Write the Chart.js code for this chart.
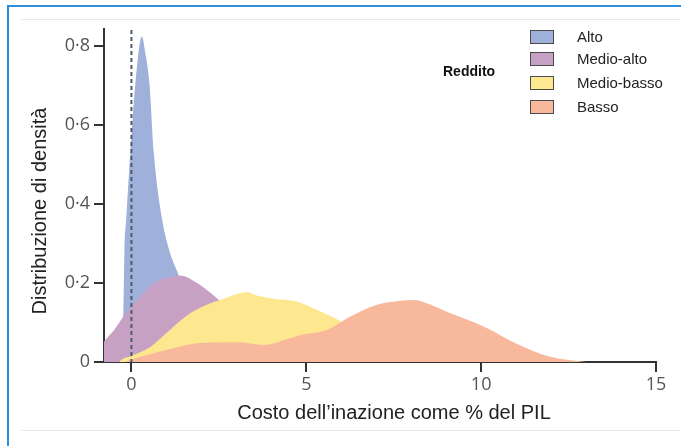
<!DOCTYPE html>
<html>
<head>
<meta charset="utf-8">
<script src="https://cdn.jsdelivr.net/npm/chart.js@4.4.1/dist/chart.umd.min.js"></script>
<style>
html,body{margin:0;padding:0;background:#fff;}
#wrap{position:relative;width:681px;height:446px;overflow:hidden;background:#fff;}
#c{position:absolute;left:0;top:0;}
.frame{position:absolute;left:7px;top:5px;width:720px;height:480px;border-left:2px solid #2a8fdc;border-top:2px solid #2a8fdc;box-sizing:border-box;}
.hl{position:absolute;left:21px;right:0;height:1px;background:#e9e9e9;}
.lg-title{position:absolute;left:443px;top:63px;font:bold 14px "Liberation Sans",Arial,sans-serif;color:#111;}
.lg-box{position:absolute;left:530px;width:24px;height:14px;box-sizing:border-box;border:1.5px solid #4a4a4a;}
.lg-txt{position:absolute;left:577px;font:15px "Liberation Sans",Arial,sans-serif;color:#222;line-height:14px;}
</style>
</head>
<body>
<div id="wrap">
  <div class="frame"></div>
  <div class="hl" style="top:19px"></div>
  <div class="hl" style="top:430px"></div>
  <canvas id="c" width="681" height="446"></canvas>
  <div id="legend"></div>
</div>
<script>
// ---- data ----
const seriesNames = ["Alto", "Medio-alto", "Medio-basso", "Basso"];
const seriesColors = ["#9fb0da", "#c6a1c4", "#fde88f", "#f8b89c"];

const altoX = [-0.4, -0.28, -0.23, -0.2, -0.15, -0.03, 0.11, 0.3, 0.4, 0.52, 0.64, 0.88, 1.1, 1.32, 1.6, 2.0, 2.5, 3.0, 3.5];
const altoY = [0, 0.02, 0.11, 0.277, 0.36, 0.53, 0.70, 0.823, 0.78, 0.70, 0.53, 0.36, 0.277, 0.226, 0.15, 0.08, 0.03, 0.01, 0];

const medioAltoX = [-1.2, -0.77, -0.5, -0.22, 0.05, 0.26, 0.73, 1.1, 1.4, 1.88, 2.26, 2.5, 3.0, 3.5, 4.0, 5.0, 6.0];
const medioAltoY = [0, 0.053, 0.08, 0.116, 0.145, 0.167, 0.204, 0.214, 0.219, 0.2, 0.175, 0.157, 0.11, 0.065, 0.035, 0.01, 0];

const medioBassoX = [-0.35, -0.3, 0, 0.54, 0.73, 1.21, 1.69, 2.16, 2.64, 3.02, 3.3, 3.59, 4.06, 4.73, 5.3, 6.0, 6.5, 7.0, 7.5, 8.5];
const medioBassoY = [0, 0.005, 0.015, 0.038, 0.052, 0.09, 0.124, 0.145, 0.16, 0.172, 0.177, 0.168, 0.16, 0.153, 0.132, 0.102, 0.07, 0.04, 0.02, 0];

const bassoX = [-0.2, 0.26, 1.2, 1.97, 3.1, 3.77, 4.54, 4.83, 5.59, 6.26, 7.02, 7.69, 8.1, 8.35, 9.11, 10.07, 11.0, 11.97, 12.5, 13.02];
const bassoY = [0, 0.013, 0.035, 0.048, 0.05, 0.043, 0.06, 0.068, 0.081, 0.115, 0.145, 0.155, 0.157, 0.152, 0.124, 0.09, 0.047, 0.013, 0.005, 0];

const xTickValues = [0, 5, 10, 15];
const yTickValues = [0, 0.2, 0.4, 0.6, 0.8];
const referenceX = 0;
const xTitle = "Costo dell\u2019inazione come % del PIL";
const yTitle = "Distribuzione di densità";
const legendTitle = "Reddito";

// ---- build ----
const toPts = (xs, ys) => xs.map((x, i) => ({x: x, y: ys[i]}));
const allX = [altoX, medioAltoX, medioBassoX, bassoX];
const allY = [altoY, medioAltoY, medioBassoY, bassoY];

const datasets = seriesNames.map((name, i) => ({
  label: name,
  data: toPts(allX[i], allY[i]),
  backgroundColor: seriesColors[i],
  borderColor: seriesColors[i],
  borderWidth: 0,
  fill: 'origin',
  pointRadius: 0,
  pointHoverRadius: 0,
  cubicInterpolationMode: 'monotone',
  order: seriesNames.length - i
}));

// legend (HTML)
const lg = document.getElementById('legend');
const t = document.createElement('div');
t.className = 'lg-title'; t.textContent = legendTitle; lg.appendChild(t);
const rowTops = [29.5, 52, 76, 99.5];
seriesNames.forEach((n, i) => {
  const b = document.createElement('div');
  b.className = 'lg-box'; b.style.top = rowTops[i] + 'px'; b.style.background = seriesColors[i];
  lg.appendChild(b);
  const s = document.createElement('div');
  s.className = 'lg-txt'; s.style.top = rowTops[i] + 'px'; s.textContent = n;
  lg.appendChild(s);
});

const overlay = {
  id: 'overlay',
  afterDatasetsDraw(chart) {
    const {ctx, chartArea, scales} = chart;
    const px = scales.x.getPixelForValue(referenceX);
    ctx.save();
    ctx.strokeStyle = '#4d5c68';
    ctx.lineWidth = 2;
    ctx.setLineDash([4, 3]);
    ctx.beginPath();
    ctx.moveTo(px, chartArea.top + 1);
    ctx.lineTo(px, chartArea.bottom);
    ctx.stroke();
    ctx.restore();
  },
  afterDraw(chart) {
    const {ctx} = chart;
    ctx.save();
    ctx.fillStyle = '#222';
    ctx.font = '20px "Liberation Sans", Arial, sans-serif';
    ctx.textAlign = 'center';
    ctx.textBaseline = 'middle';
    ctx.fillText(xTitle, 394, 413);
    ctx.translate(40, 211);
    ctx.rotate(-Math.PI / 2);
    ctx.fillText(yTitle, 0, 0);
    ctx.restore();
  }
};

const tickFont = {family: '"Open Sans", sans-serif', size: 18};

new Chart(document.getElementById('c'), {
  type: 'line',
  data: {datasets},
  options: {
    responsive: false,
    animation: false,
    events: [],
    layout: {padding: {top: 29, right: 25, left: 0, bottom: 0}},
    plugins: {legend: {display: false}, tooltip: {enabled: false}},
    scales: {
      x: {
        type: 'linear',
        min: -0.784,
        max: 15,
        afterBuildTicks: s => { s.ticks = xTickValues.map(v => ({value: v})); },
        afterFit: s => { s.height = 84; },
        grid: {drawOnChartArea: false, drawTicks: true, tickLength: 10, color: '#333', lineWidth: 2},
        border: {display: true, color: '#333', width: 2},
        ticks: {font: tickFont, color: '#555', padding: 2, maxRotation: 0, callback: v => String(v)},
        title: {display: false}
      },
      y: {
        min: 0,
        max: 0.842,
        afterBuildTicks: s => { s.ticks = yTickValues.map(v => ({value: v})); },
        afterFit: s => { s.width = 104; },
        grid: {drawOnChartArea: false, drawTicks: true, tickLength: 10, color: '#333', lineWidth: 2},
        border: {display: true, color: '#333', width: 2},
        ticks: {font: tickFont, color: '#555', padding: 4,
          callback: v => v === 0 ? '0' : v.toFixed(1).replace('.', '\u00B7')},
        title: {display: false}
      }
    }
  },
  plugins: [overlay]
});
</script>
</body>
</html>
